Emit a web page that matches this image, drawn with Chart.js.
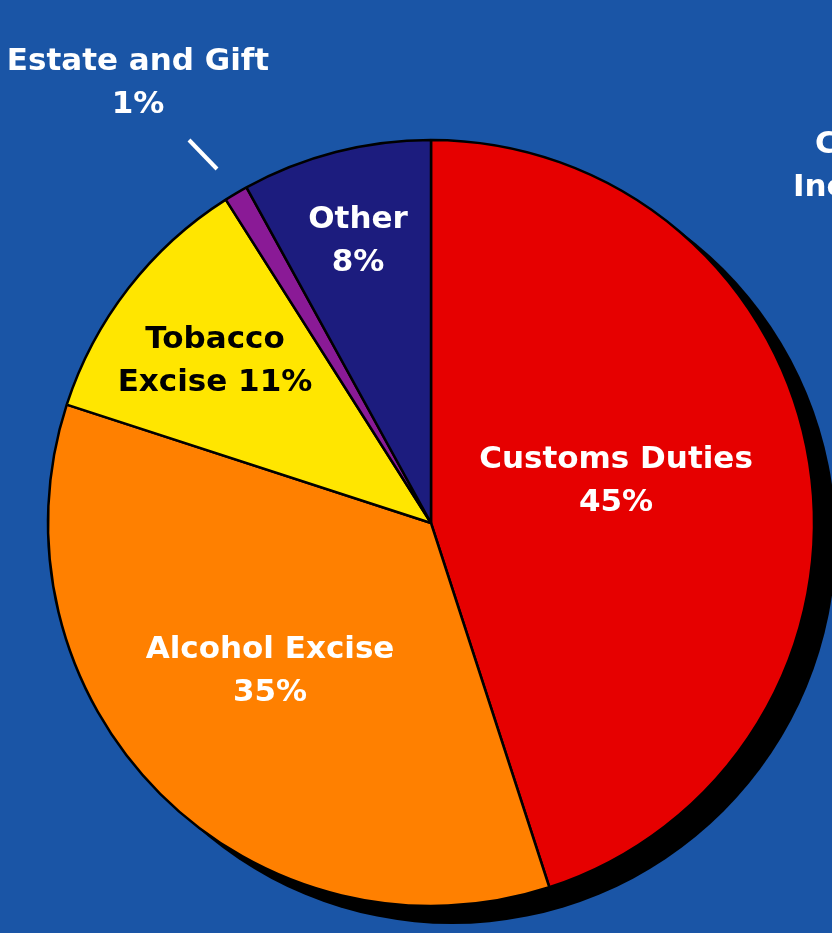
<!DOCTYPE html>
<html>
<head>
<meta charset="utf-8">
<script src="https://cdn.jsdelivr.net/npm/chart.js@4/dist/chart.umd.min.js"></script>
<style>
  html, body { margin: 0; padding: 0; background: #1a55a6; }
  #wrap { width: 832px; height: 933px; position: relative; }
</style>
</head>
<body>
<div id="wrap"><canvas id="c" width="832" height="933"></canvas></div>
<script>
// ---- data ----
const categories = ["Customs Duties", "Alcohol Excise", "Tobacco Excise", "Estate and Gift", "Other"];
const shares = [45, 35, 11, 1, 8];
const sliceColors = ["#e60000", "#ff8000", "#ffe600", "#8a1a96", "#1c1c7e"];
const labelLines = [
  ["Customs Duties", "45%"],
  ["Alcohol Excise", "35%"],
  ["Tobacco", "Excise 11%"],
  ["Estate and Gift", "1%"],
  ["Other", "8%"]
];

const FONT = 'bold 31px "DejaVu Sans", sans-serif';

// black drop shadow behind the pie
const shadowPlugin = {
  id: 'pieShadow',
  beforeDatasetsDraw(chart) {
    const arc = chart.getDatasetMeta(0).data[0];
    if (!arc) return;
    const ctx = chart.ctx;
    ctx.save();
    ctx.fillStyle = '#000';
    ctx.beginPath();
    ctx.arc(arc.x + 21, arc.y + 17, arc.outerRadius + 1, 0, Math.PI * 2);
    ctx.fill();
    ctx.restore();
  }
};

// slice labels
const labelPlugin = {
  id: 'sliceLabels',
  afterDatasetsDraw(chart) {
    const ctx = chart.ctx;
    const arc = chart.getDatasetMeta(0).data[0];
    const cx = arc.x, cy = arc.y;
    // label anchor offsets relative to pie centre
    const spots = [
      { dx: 185, dy: -63, color: '#fff' },
      { dx: -161, dy: 127, color: '#fff' },
      { dx: -216, dy: -183, color: '#000' },
      { dx: -293, dy: -461, color: '#fff' },
      { dx: -73, dy: -303, color: '#fff' }
    ];
    ctx.save();
    ctx.font = FONT;
    ctx.textAlign = 'center';
    ctx.textBaseline = 'middle';
    labelLines.forEach((lines, i) => {
      const s = spots[i];
      ctx.fillStyle = s.color;
      lines.forEach((t, j) => {
        ctx.fillText(t, cx + s.dx, cy + s.dy + j * 43);
      });
    });
    // leader line for Estate and Gift
    ctx.strokeStyle = '#fff';
    ctx.lineWidth = 4;
    ctx.beginPath();
    ctx.moveTo(cx - 242, cy - 383);
    ctx.lineTo(cx - 214, cy - 354);
    ctx.stroke();
    // cut-off label at the right edge
    ctx.textAlign = 'left';
    ctx.fillStyle = '#fff';
    ctx.fillText("Corporate", cx + 384, cy - 378);
    ctx.fillText("Income Taxes", cx + 362, cy - 335);
    ctx.restore();
  }
};

new Chart(document.getElementById('c'), {
  type: 'pie',
  data: {
    labels: categories,
    datasets: [{
      data: shares,
      backgroundColor: sliceColors,
      borderColor: '#000',
      borderWidth: 2.5,
      hoverOffset: 0
    }]
  },
  options: {
    responsive: false,
    animation: false,
    radius: 383,
    layout: { padding: { left: 30, right: 0, top: 113, bottom: 0 } },
    plugins: {
      legend: { display: false },
      tooltip: { enabled: false },
      title: { display: false }
    },
    events: []
  },
  plugins: [shadowPlugin, labelPlugin]
});
</script>
</body>
</html>
